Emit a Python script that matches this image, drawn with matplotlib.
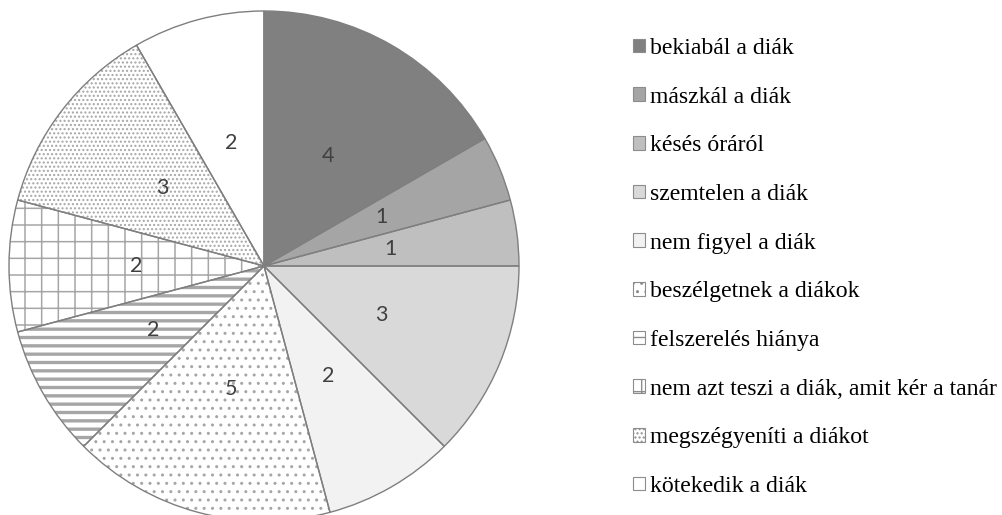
import matplotlib
matplotlib.use("Agg")
import matplotlib.pyplot as plt
from matplotlib.patches import Patch

labels = ["bekiabál a diák", "mászkál a diák", "késés óráról", "szemtelen a diák",
          "nem figyel a diák", "beszélgetnek a diákok", "felszerelés hiánya",
          "nem azt teszi a diák, amit kér a tanár", "megszégyeníti a diákot",
          "kötekedik a diák"]
# slice sizes as drawn in the picture (the "5" slice is drawn as big as the "4" one)
values = [4, 1, 1, 3, 2, 4, 2, 2, 3, 2]
# data labels as printed on the slices
value_labels = ["4", "1", "1", "3", "2", "5", "2", "2", "3", "2"]

faces = ["#808080", "#a5a5a5", "#bfbfbf", "#d9d9d9", "#f2f2f2",
         "white", "white", "white", "white", "white"]
hatches = [None, None, None, None, None, "..", "--", "+", "....", None]
hatch_col = "#a6a6a6"
hatch_lw = [0, 0, 0, 0, 0, 1.0, 2.4, 1.1, 1.0, 0]
edge = "#7f7f7f"

fig = plt.figure(figsize=(10.03, 5.15), dpi=100)
W, H = 1003, 515
cx, cy, r = 264, 266, 255
ax = fig.add_axes([(cx - r) / W, (H - cy - r) / H, 2 * r / W, 2 * r / H])

wedges, texts = ax.pie(values, colors=faces, startangle=90, counterclock=False,
                       labels=value_labels, labeldistance=0.5,
                       wedgeprops=dict(linewidth=0),
                       textprops=dict(color="#404040", fontsize=15.5,
                                      family="Lato"),
                       radius=1, frame=False)
for w, h, lw in zip(wedges, hatches, hatch_lw):
    if h:
        w.set_hatch(h)
        w.set_edgecolor(hatch_col)
        if hasattr(w, "set_hatch_linewidth"):
            w.set_hatch_linewidth(lw)
for t in texts:
    t.set_ha("center")
    t.set_va("center")
    t.set_zorder(10)

# outlines on top
ax.pie(values, colors=["none"] * len(values), startangle=90, counterclock=False,
       wedgeprops=dict(edgecolor=edge, linewidth=1.0), radius=1, frame=False)
ax.set_xlim(-1, 1)
ax.set_ylim(-1, 1)
ax.axis("off")

handles = []
for f, h in zip(faces, hatches):
    handles.append(Patch(facecolor=f, edgecolor="#8c8c8c", linewidth=0.8, hatch=h))
leg = fig.legend(handles, labels, loc="upper left",
                 bbox_to_anchor=(633 / W, 1 - 38 / H), frameon=False,
                 prop=dict(family="Liberation Serif", size=17.1),
                 handlelength=0.5, handleheight=0.5, handletextpad=0.2,
                 labelspacing=1.165, borderpad=0, borderaxespad=0)

fig.savefig("out.png", dpi=100)
